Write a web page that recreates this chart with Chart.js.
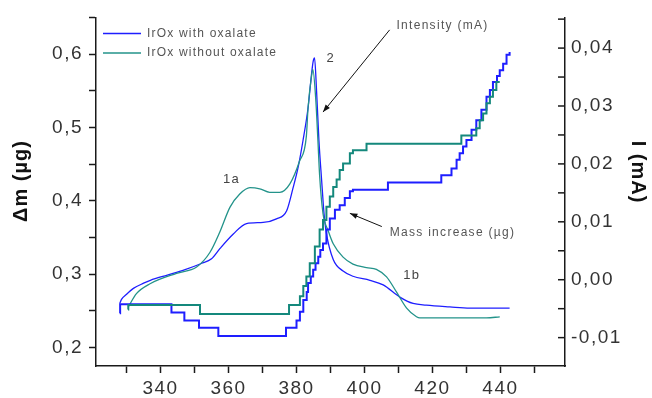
<!DOCTYPE html>
<html>
  <head>
    <title>IrOx oxalate</title>
    <script src="https://cdn.jsdelivr.net/npm/chart.js"></script>
    <style>
      body {
        margin: 0;
        background: #ffffff;
      }
      #chart {
        display: block;
      }
    </style>
  </head>
  <body>
    <canvas id="chart" width="652" height="398"></canvas>
    <script>
      // intensity curves (mA, right axis)
      const blueIntX = [328.0, 328.5, 330, 332, 335, 337, 342, 347, 352, 355, 357.5, 361.4, 365.3, 370.2, 374.1, 377.1, 379.0, 380.5, 381.9, 383.4, 384.4, 384.9, 385.3, 385.9, 386.6, 387.4, 388.1, 388.8, 390.8, 393.7, 396.6, 401.6, 405.5, 410.4, 414.3, 418.2, 425.1, 431, 442.7];
      const blueIntY = [-0.0041, -0.0034, -0.0025, -0.0015, -0.0006, -0.0001, 0.0008, 0.0017, 0.0028, 0.0036, 0.0054, 0.0079, 0.0097, 0.0099, 0.0105, 0.0119, 0.0159, 0.0195, 0.024, 0.0297, 0.0354, 0.0377, 0.0383, 0.0326, 0.024, 0.0171, 0.0114, 0.008, 0.0035, 0.0015, 0.0006, -0.0001, -0.0009, -0.003, -0.0041, -0.0044, -0.0047, -0.0049, -0.0049];

      const tealIntX = [330.5, 332.9, 336.9, 344.7, 350.6, 354.5, 357.4, 360.4, 363.3, 366.3, 369.2, 372.1, 375.1, 378.0, 380.9, 382.9, 383.4, 384.4, 384.8, 385.7, 386.3, 386.8, 387.8, 389.3, 390.8, 393.7, 396.6, 400.6, 403.5, 406.5, 409.4, 412.4, 415.3, 416.3, 435.9, 439.8];
      const tealIntY = [-0.0047, -0.0024, -0.0007, 0.0011, 0.0022, 0.0047, 0.0082, 0.0125, 0.0148, 0.0159, 0.0157, 0.0151, 0.0151, 0.0165, 0.0205, 0.0248, 0.0297, 0.0351, 0.0363, 0.0308, 0.024, 0.018, 0.0114, 0.0085, 0.0062, 0.0039, 0.0027, 0.0021, 0.0018, 0.0005, -0.0021, -0.0049, -0.0064, -0.0066, -0.0066, -0.0064];

      // mass curves (ug, left axis), stepped: each point = where a new level starts
      const blueMassX = [328.0, 328.1, 343.2, 347.0, 351.3, 357.0, 376.9, 380.0, 381.0, 382.0, 383.0, 383.4, 384.2, 384.9, 385.6, 386.4, 387.0, 387.8, 388.8, 389.8, 391.3, 392.7, 394.2, 395.7, 396.6, 406.9, 422.6, 425.6, 427.1, 428.0, 429.0, 430.0, 431.5, 432.9, 434.4, 435.9, 436.9, 437.8, 439.0, 439.8, 440.8, 441.8, 442.7];
      const blueMassY = [0.247, 0.259, 0.248, 0.237, 0.227, 0.216, 0.227, 0.237, 0.249, 0.265, 0.276, 0.288, 0.297, 0.306, 0.315, 0.324, 0.333, 0.342, 0.361, 0.376, 0.388, 0.394, 0.404, 0.413, 0.415, 0.425, 0.435, 0.444, 0.456, 0.465, 0.474, 0.483, 0.497, 0.51, 0.524, 0.542, 0.551, 0.562, 0.57, 0.578, 0.587, 0.599, 0.603];

      const tealMassX = [330.4, 330.5, 351.6, 377.8, 381.0, 382.0, 382.9, 383.9, 385.4, 386.8, 387.8, 388.8, 389.8, 390.8, 391.8, 392.7, 393.7, 395.7, 396.6, 400.6, 428.5, 432.9, 433.9, 434.9, 435.9, 436.9, 437.8, 438.8, 439.8];
      const tealMassY = [0.252, 0.258, 0.246, 0.258, 0.27, 0.284, 0.297, 0.315, 0.338, 0.361, 0.374, 0.392, 0.406, 0.419, 0.429, 0.442, 0.451, 0.465, 0.469, 0.478, 0.489, 0.499, 0.51, 0.519, 0.533, 0.542, 0.551, 0.562, 0.562];

      // ticks (major ones get a label)
      const xTickVals = [330, 340, 350, 360, 370, 380, 390, 400, 410, 420, 430, 440, 450];
      const xTickLabels = [340, 360, 380, 400, 420, 440];
      const leftTickVals = [0.2, 0.25, 0.3, 0.35, 0.4, 0.45, 0.5, 0.55, 0.6, 0.65];
      const leftTickLabels = [0.2, 0.3, 0.4, 0.5, 0.6];
      const rightTickVals = [-0.01, -0.005, 0, 0.005, 0.01, 0.015, 0.02, 0.025, 0.03, 0.035, 0.04, 0.045];
      const rightTickLabels = [-0.01, 0, 0.01, 0.02, 0.03, 0.04];

      const BLUE = "#1e1eff";
      const TEAL = "#23938a";
      const TEAL_DARK = "#14887c";
      const AXIS = "#1a1a1a";

      function pts(xs, ys) {
        return xs.map((x, i) => ({ x: x, y: ys[i] }));
      }
      function hasLabel(list, v) {
        return list.some((l) => Math.abs(l - v) < 1e-9);
      }
      function comma(v, d) {
        return v.toFixed(d).replace(".", ",");
      }

      // labels drawn onto the plot, in data units (x, left axis)
      const notes = [
        { text: "2", x: 388.8, y: 0.594, size: 13 },
        { text: "1a", x: 358.4, y: 0.429, size: 13 },
        { text: "1b", x: 411.4, y: 0.298, size: 13 },
      ];

      const extras = {
        id: "extras",
        beforeDraw(chart) {
          chart.ctx.letterSpacing = "1.5px";
        },
        afterDraw(chart) {
          const ctx = chart.ctx;
          const xs = chart.scales.x;
          const ys = chart.scales.y;
          const r = chart.scales.y1;
          const area = chart.chartArea;
          ctx.save();

          // inward ticks on the right axis
          ctx.strokeStyle = AXIS;
          ctx.lineWidth = 1.5;
          rightTickVals.forEach((v) => {
            const py = r.getPixelForValue(v);
            ctx.beginPath();
            ctx.moveTo(area.right, py);
            ctx.lineTo(area.right - 7, py);
            ctx.stroke();
          });

          // axis titles
          ctx.fillStyle = "#111";
          ctx.font = "bold 20px 'Liberation Sans', Arial, sans-serif";
          ctx.letterSpacing = "1px";
          ctx.textAlign = "center";
          ctx.textBaseline = "middle";
          ctx.save();
          ctx.translate(21, 181);
          ctx.rotate(-Math.PI / 2);
          ctx.fillText("\u0394m (\u00b5g)", 0, 0);
          ctx.restore();
          ctx.save();
          ctx.translate(638, 172);
          ctx.rotate(Math.PI / 2);
          ctx.fillText("I (mA)", 0, 0);
          ctx.restore();

          // legend
          const legend = [
            { label: "IrOx with oxalate", color: BLUE },
            { label: "IrOx without oxalate", color: TEAL },
          ];
          ctx.font = "12px 'Liberation Sans', Arial, sans-serif";
          ctx.letterSpacing = "1.2px";
          ctx.textAlign = "left";
          legend.forEach((item, i) => {
            const ly = area.top + 16 + i * 19.5;
            ctx.strokeStyle = item.color;
            ctx.lineWidth = 1.5;
            ctx.beginPath();
            ctx.moveTo(area.left + 7, ly);
            ctx.lineTo(area.left + 45, ly);
            ctx.stroke();
            ctx.fillStyle = "#555";
            ctx.fillText(item.label, area.left + 51, ly);
          });

          // peak labels
          ctx.fillStyle = "#444";
          notes.forEach((n) => {
            ctx.font = n.size + "px 'Liberation Sans', Arial, sans-serif";
            ctx.fillText(n.text, xs.getPixelForValue(n.x), ys.getPixelForValue(n.y));
          });

          // arrows with captions
          const arrows = [
            { text: "Intensity (mA)", tx: 409.4, ty: 0.639, x0: 407.4, y0: 0.633, x1: 387.8, y1: 0.521 },
            { text: "Mass increase (\u00b5g)", tx: 407.4, ty: 0.356, x0: 405.1, y0: 0.365, x1: 395.7, y1: 0.383 },
          ];
          arrows.forEach((a) => {
            ctx.font = "12px 'Liberation Sans', Arial, sans-serif";
            ctx.letterSpacing = "1.3px";
            ctx.fillStyle = "#555";
            ctx.fillText(a.text, xs.getPixelForValue(a.tx), ys.getPixelForValue(a.ty));
            const ax = xs.getPixelForValue(a.x0);
            const ay = ys.getPixelForValue(a.y0);
            const bx = xs.getPixelForValue(a.x1);
            const by = ys.getPixelForValue(a.y1);
            ctx.strokeStyle = "#111";
            ctx.lineWidth = 1;
            ctx.beginPath();
            ctx.moveTo(ax, ay);
            ctx.lineTo(bx, by);
            ctx.stroke();
            const ang = Math.atan2(by - ay, bx - ax);
            ctx.fillStyle = "#111";
            ctx.beginPath();
            ctx.moveTo(bx, by);
            ctx.lineTo(bx - 8 * Math.cos(ang - 0.35), by - 8 * Math.sin(ang - 0.35));
            ctx.lineTo(bx - 8 * Math.cos(ang + 0.35), by - 8 * Math.sin(ang + 0.35));
            ctx.closePath();
            ctx.fill();
          });

          ctx.restore();
          ctx.letterSpacing = "1.5px";
        },
      };

      const lineBase = {
        pointRadius: 0,
        fill: false,
      };

      new Chart(document.getElementById("chart"), {
        type: "line",
        data: {
          datasets: [
            Object.assign({}, lineBase, {
              label: "Mass without oxalate",
              data: pts(tealMassX, tealMassY),
              borderColor: TEAL_DARK,
              borderWidth: 2,
              stepped: "before",
              yAxisID: "y",
            }),
            Object.assign({}, lineBase, {
              label: "Mass with oxalate",
              data: pts(blueMassX, blueMassY),
              borderColor: BLUE,
              borderWidth: 2,
              stepped: "before",
              yAxisID: "y",
            }),
            Object.assign({}, lineBase, {
              label: "IrOx without oxalate",
              data: pts(tealIntX, tealIntY),
              borderColor: TEAL,
              borderWidth: 1.3,
              cubicInterpolationMode: "monotone",
              yAxisID: "y1",
            }),
            Object.assign({}, lineBase, {
              label: "IrOx with oxalate",
              data: pts(blueIntX, blueIntY),
              borderColor: BLUE,
              borderWidth: 1.3,
              cubicInterpolationMode: "monotone",
              yAxisID: "y1",
            }),
          ],
        },
        options: {
          responsive: false,
          animation: false,
          devicePixelRatio: 1,
          layout: { padding: { top: 16, left: 0, right: 0, bottom: 0 } },
          plugins: {
            legend: { display: false },
            tooltip: { enabled: false },
          },
          scales: {
            x: {
              type: "linear",
              min: 321,
              max: 459,
              afterFit: (s) => {
                s.height = 32;
              },
              afterBuildTicks: (s) => {
                s.ticks = xTickVals.map((v) => ({ value: v }));
              },
              border: { display: true, color: AXIS, width: 1.5 },
              grid: { drawOnChartArea: false, tickLength: 7, tickColor: AXIS, tickWidth: 1.5 },
              ticks: {
                autoSkip: false,
                maxRotation: 0,
                padding: 4,
                color: "#333",
                font: { family: "'Liberation Sans', Arial, sans-serif", size: 19 },
                callback: (v) => (hasLabel(xTickLabels, v) ? String(v) : ""),
              },
            },
            y: {
              type: "linear",
              position: "left",
              min: 0.175,
              max: 0.65,
              afterFit: (s) => {
                s.width = 96;
              },
              afterBuildTicks: (s) => {
                s.ticks = leftTickVals.map((v) => ({ value: v }));
              },
              border: { display: true, color: AXIS, width: 1.5 },
              grid: { drawOnChartArea: false, tickLength: 7, tickColor: AXIS, tickWidth: 1.5 },
              ticks: {
                autoSkip: false,
                padding: 6,
                color: "#333",
                font: { family: "'Liberation Sans', Arial, sans-serif", size: 19 },
                callback: (v) => (hasLabel(leftTickLabels, v) ? comma(v, 1) : ""),
              },
            },
            y1: {
              type: "linear",
              position: "right",
              min: -0.0149,
              max: 0.0453,
              afterFit: (s) => {
                s.width = 87;
              },
              afterBuildTicks: (s) => {
                s.ticks = rightTickVals.map((v) => ({ value: v }));
              },
              border: { display: true, color: AXIS, width: 1.5 },
              grid: { drawOnChartArea: false, drawTicks: false },
              ticks: {
                autoSkip: false,
                padding: 6,
                color: "#333",
                font: { family: "'Liberation Sans', Arial, sans-serif", size: 19 },
                callback: (v) => (hasLabel(rightTickLabels, v) ? comma(v, 2) : ""),
              },
            },
          },
        },
        plugins: [extras],
      });
    </script>
  </body>
</html>
